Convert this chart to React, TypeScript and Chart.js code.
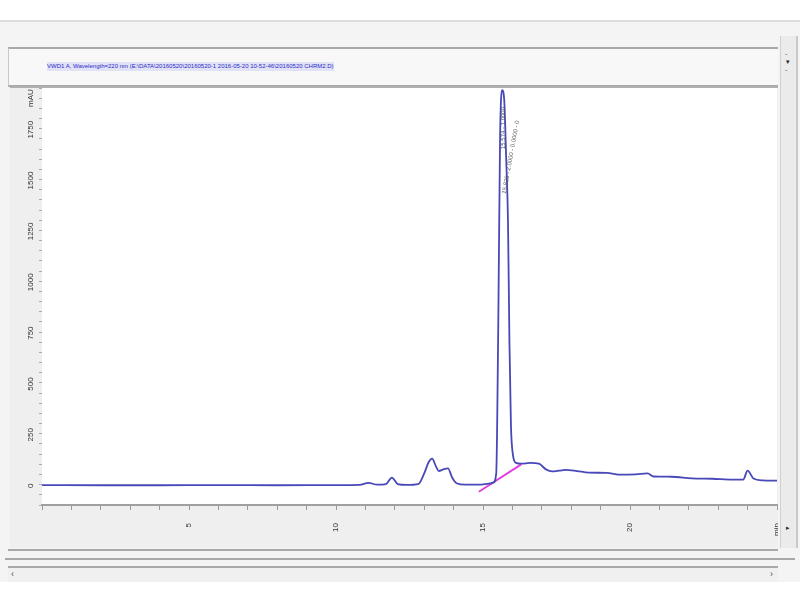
import React, { useEffect, useRef } from "react";
import { Chart, registerables } from "chart.js";

Chart.register(...registerables);

const titleText =
  "VWD1 A, Wavelength=220 nm (E:\\DATA\\20160520\\20160520-1 2016-05-20 10-52-46\\20160520 CHRM2.D)";

const times = [
  0, 2, 4, 6, 8, 10, 10.8, 11.1, 11.4, 11.7, 11.9, 12.1, 12.4, 12.8, 13.0, 13.15, 13.27, 13.4, 13.5,
  13.65, 13.81, 13.95, 14.1, 14.4, 14.86, 15.2, 15.35, 15.45, 15.52, 15.58, 15.65, 15.72, 15.79, 15.85,
  15.9, 15.95, 16.02, 16.12, 16.3, 16.6, 16.9, 17.14, 17.35, 17.6, 17.8, 18.2, 18.6, 19.2, 19.7, 20.2,
  20.6, 20.8, 21.4, 22.1, 22.8, 23.5, 23.85, 24.0, 24.2, 24.5, 25,
];
const signal = [
  3, 2, 2, 3, 2, 3, 4, 14, 5, 8, 40, 8, 4, 8, 60, 115, 133, 95, 72, 80, 85, 40, 12, 5, 5, 10, 15, 60,
  800, 1700, 1945, 1900, 1600, 1300, 700, 300, 150, 112, 108, 112, 108, 80, 70, 74, 78, 72, 64, 63, 54,
  56, 60, 45, 44, 36, 34, 30, 30, 74, 35, 26, 25,
];
const baselineTimes = [14.86, 16.3];
const baselineValues = [-30, 105];

const yLabelValues = [0, 250, 500, 750, 1000, 1250, 1500, 1750];
const peakLabels = ["15.574 - 1.0000", "15.825 - 2.0000 - 0.0000 - 0"];
const peakLabelTimes = [15.63, 15.72];
const peakLabelValues = [1655, 1435];

const panelPlugin = {
  id: "panelBg",
  beforeDraw(chart: any) {
    const { ctx, chartArea, width, height } = chart;
    ctx.save();
    ctx.fillStyle = "#efefef";
    ctx.fillRect(0, 0, width, height);
    ctx.fillStyle = "#ffffff";
    ctx.fillRect(chartArea.left, chartArea.top, chartArea.right - chartArea.left, chartArea.bottom - chartArea.top);
    ctx.strokeStyle = "#b0b0b0";
    ctx.lineWidth = 2;
    ctx.beginPath();
    ctx.moveTo(0, 1);
    ctx.lineTo(width, 1);
    ctx.stroke();
    ctx.restore();
  },
  afterDraw(chart: any) {
    const { ctx, scales, chartArea } = chart;
    const y = scales.y;
    const x = scales.x;
    ctx.save();
    ctx.fillStyle = "#333";
    ctx.font = "8px 'Liberation Sans', Arial, sans-serif";
    ctx.textAlign = "center";
    ctx.textBaseline = "middle";
    yLabelValues.forEach((v) => {
      const py = y.getPixelForValue(v);
      ctx.save();
      ctx.translate(chartArea.left - 11, py);
      ctx.rotate(-Math.PI / 2);
      ctx.fillText(String(v), 0, 0);
      ctx.restore();
    });
    ctx.save();
    ctx.translate(chartArea.left - 11, chartArea.top + 10);
    ctx.rotate(-Math.PI / 2);
    ctx.fillText("mAU", 0, 0);
    ctx.restore();

    // peak labels
    ctx.fillStyle = "#555";
    ctx.font = "6px 'Liberation Sans', Arial, sans-serif";
    ctx.textAlign = "left";
    const p1x = x.getPixelForValue(peakLabelTimes[0]);
    const p1y = y.getPixelForValue(peakLabelValues[0]);
    ctx.save();
    ctx.translate(p1x + 2, p1y);
    ctx.rotate(-Math.PI / 2);
    ctx.fillText(peakLabels[0], 0, 0);
    ctx.restore();
    const p2x = x.getPixelForValue(peakLabelTimes[1]);
    const p2y = y.getPixelForValue(peakLabelValues[1]);
    ctx.save();
    ctx.translate(p2x, p2y);
    ctx.rotate(-1.39);
    ctx.fillText(peakLabels[1], 0, 0);
    ctx.restore();
    ctx.restore();
  },
};

function ChromChart() {
  const ref = useRef<HTMLCanvasElement | null>(null);
  useEffect(() => {
    if (!ref.current) return;
    const chart = new Chart(ref.current, {
      type: "line",
      data: {
        datasets: [
          {
            data: times.map((t, i) => ({ x: t, y: signal[i] })),
            borderColor: "#4848b8",
            borderWidth: 1.8,
            pointRadius: 0,
            cubicInterpolationMode: "monotone",
            fill: false,
          },
          {
            data: baselineTimes.map((t, i) => ({ x: t, y: baselineValues[i] })),
            borderColor: "#e040e0",
            borderWidth: 2,
            pointRadius: 0,
            fill: false,
          },
        ],
      },
      options: {
        responsive: false,
        animation: false,
        devicePixelRatio: 1,
        layout: { padding: { top: 2, right: 1, left: 0, bottom: 0 } },
        plugins: { legend: { display: false }, tooltip: { enabled: false } },
        scales: {
          x: {
            type: "linear",
            min: 0,
            max: 25,
            afterFit: (s: any) => {
              s.height = 43;
              s.paddingLeft = 0;
              s.paddingRight = 0;
            },
            ticks: {
              stepSize: 1,
              autoSkip: false,
              includeBounds: false,
              minRotation: 90,
              maxRotation: 90,
              padding: 13,
              color: "#333",
              font: { size: 8, family: "'Liberation Sans', Arial, sans-serif" },
              callback: (v: any) => (v === 25 ? "min" : v % 5 === 0 && v > 0 ? String(v) : ""),
            },
            grid: { drawOnChartArea: false, tickLength: 5, tickColor: "#999" },
            border: { color: "#a0a0a0", width: 2 },
          },
          y: {
            type: "linear",
            min: -95,
            max: 1955,
            afterFit: (s: any) => {
              s.width = 32;
              s.paddingTop = 0;
              s.paddingBottom = 0;
            },
            ticks: { display: false, stepSize: 50, includeBounds: false },
            grid: { drawOnChartArea: false, tickLength: 3, tickColor: "#aaa" },
            border: { display: false },
          },
        },
      },
      plugins: [panelPlugin],
    } as any);
    return () => chart.destroy();
  }, []);
  return <canvas ref={ref} width={768} height={462} style={{ display: "block" }} />;
}

export default function App() {
  return (
    <div
      style={{
        position: "fixed",
        left: 0,
        top: 0,
        width: 800,
        height: 600,
        background: "#f4f4f4",
        fontFamily: "'Liberation Sans', Arial, sans-serif",
        overflow: "hidden",
      }}
    >
      <div style={{ position: "absolute", left: 0, top: 0, width: 800, height: 20, background: "#ffffff" }} />
      <div style={{ position: "absolute", left: 0, top: 20, width: 800, height: 2, background: "#dcdcdc" }} />
      {/* title box */}
      <div
        style={{
          position: "absolute",
          left: 8,
          top: 47,
          width: 769,
          height: 36,
          borderTop: "2px solid #a8a8a8",
          borderLeft: "1px solid #c8c8c8",
          borderBottom: "2px solid #a8a8a8",
          background: "#f8f8f8",
        }}
      >
        <span
          style={{
            position: "absolute",
            left: 38,
            top: 13,
            fontSize: 6,
            lineHeight: "9px",
            color: "#2a2ac8",
            background: "#e2e2f6",
            whiteSpace: "nowrap",
          }}
        >
          {titleText}
        </span>
      </div>
      {/* right scroll strip */}
      <div
        style={{
          position: "absolute",
          left: 780,
          top: 36,
          width: 15,
          height: 512,
          background: "#ebebeb",
          borderLeft: "1px solid #d0d0d0",
          borderRight: "2px solid #c8c8c8",
        }}
      >
        <div style={{ position: "absolute", left: 4, top: 14, fontSize: 7, color: "#555" }}>-</div>
        <div style={{ position: "absolute", left: 5, top: 22, fontSize: 7, color: "#222" }}>▾</div>
        <div style={{ position: "absolute", left: 4, top: 30, fontSize: 7, color: "#555" }}>-</div>
        <div style={{ position: "absolute", left: 5, top: 488, fontSize: 7, color: "#333" }}>▸</div>
      </div>
      {/* plot panel */}
      <div style={{ position: "absolute", left: 10, top: 86 }}>
        <ChromChart />
      </div>
      <div style={{ position: "absolute", left: 8, top: 549, width: 770, height: 2, background: "#a8a8a8" }} />
      <div style={{ position: "absolute", left: 5, top: 558, width: 790, height: 2, background: "#a8a8a8" }} />
      {/* bottom scroll bar */}
      <div
        style={{
          position: "absolute",
          left: 8,
          top: 566,
          width: 770,
          height: 14,
          borderTop: "2px solid #a8a8a8",
          background: "#f0f0f0",
        }}
      >
        <div style={{ position: "absolute", left: 3, top: 1, fontSize: 9, color: "#444" }}>‹</div>
        <div style={{ position: "absolute", left: 762, top: 1, fontSize: 9, color: "#444" }}>›</div>
      </div>
      <div style={{ position: "absolute", left: 0, top: 582, width: 800, height: 18, background: "#ffffff" }} />
    </div>
  );
}
